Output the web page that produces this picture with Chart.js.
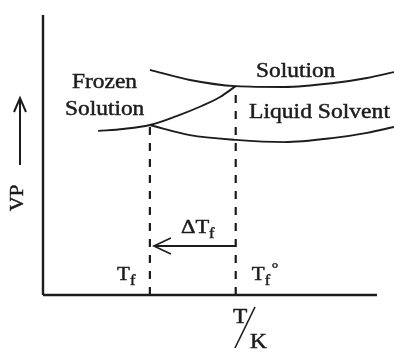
<!DOCTYPE html>
<html>
<head>
<meta charset="utf-8">
<script src="https://cdn.jsdelivr.net/npm/chart.js@4.4.1/dist/chart.umd.min.js"></script>
<style>
html, body { margin: 0; padding: 0; background: #fff; }
#wrap { width: 394px; height: 352px; }
</style>
</head>
<body>
<div id="wrap"><canvas id="myChart"></canvas></div>
<script>
// freezing points on the T axis: Tf (solution) and Tf° (pure solvent)
var freezeT = [3.2, 5.77]
// top of each dashed line (where it meets the curves)
var freezeVP = [6.07, 7.46]

// frozen solution (solid) curve
var frozenT = [1.65, 2.40, 3.2, 4.00, 4.75, 5.30, 5.77]
var frozenVP = [5.86, 5.93, 6.07, 6.39, 6.75, 7.07, 7.46]

// upper curve, labelled "Solution"
var solutionT = [3.2, 4.40, 5.77, 7.22, 8.71, 9.70, 10.51]
var solutionVP = [8.04, 7.68, 7.46, 7.43, 7.57, 7.75, 7.96]

// lower curve, labelled "Liquid Solvent"
var solventT = [3.2, 4.40, 5.77, 7.22, 8.71, 9.70, 10.51]
var solventVP = [6.07, 5.71, 5.54, 5.46, 5.61, 5.79, 6.0]

var curveLabels = ['Frozen', 'Solution', 'Solution', 'Liquid Solvent']
var axisLabels = ['VP', 'T', 'K']

var INK = '#1c1c1c'
var SERIF = '"Liberation Serif", "Times New Roman", serif'

function toPoints(xs, ys) {
    var pts = []
    for (var i = 0; i < xs.length; i++) pts.push({ x: xs[i], y: ys[i] })
    return pts
}

function curve(xs, ys) {
    return {
        data: toPoints(xs, ys),
        showLine: true,
        borderColor: INK,
        borderWidth: 1.9,
        pointRadius: 0,
        cubicInterpolationMode: 'monotone',
        clip: false
    }
}

function straight(pts, width, dash) {
    return {
        data: pts,
        showLine: true,
        borderColor: INK,
        borderWidth: width,
        borderDash: dash || [],
        pointRadius: 0,
        tension: 0,
        clip: false
    }
}

// text a little wider and heavier than the plain font, like the scan
function txt(ctx, s, x, y, size, sx) {
    ctx.save()
    ctx.font = size + 'px ' + SERIF
    ctx.translate(x, y)
    ctx.scale(sx || 1.17, 1)
    ctx.lineWidth = 0.45
    ctx.fillText(s, 0, 0)
    ctx.strokeText(s, 0, 0)
    ctx.restore()
}

var labelsPlugin = {
    id: 'labels',
    afterDraw: function (chart) {
        var ctx = chart.ctx
        var xs = chart.scales.x, ys = chart.scales.y
        var pTf = xs.getPixelForValue(freezeT[0])
        var pTf0 = xs.getPixelForValue(freezeT[1])
        ctx.save()
        ctx.fillStyle = INK
        ctx.strokeStyle = INK
        ctx.textAlign = 'left'
        ctx.textBaseline = 'alphabetic'

        // curve names
        txt(ctx, curveLabels[0], 72, 88, 20)
        txt(ctx, curveLabels[1], 65, 115, 20)
        txt(ctx, curveLabels[2], 256, 77, 20)
        txt(ctx, curveLabels[3], 249, 118, 20, 1.18)

        // Tf and Tf° marks
        txt(ctx, 'T', pTf - 33, 280, 18)
        txt(ctx, 'f', pTf - 20, 285, 14)
        txt(ctx, 'T', pTf0 + 16, 280, 18)
        txt(ctx, 'f', pTf0 + 29, 285, 14)
        txt(ctx, '\u00b0', pTf0 + 36, 273, 14)

        // ΔTf arrow
        var ay = ys.getPixelForValue(1.75)
        var tip = pTf + 4
        ctx.lineWidth = 2
        ctx.beginPath()
        ctx.moveTo(pTf0, ay)
        ctx.lineTo(tip, ay)
        ctx.stroke()
        ctx.lineWidth = 1.6
        ctx.beginPath()
        ctx.moveTo(tip + 17, ay - 8)
        ctx.lineTo(tip, ay)
        ctx.lineTo(tip + 17, ay + 8)
        ctx.stroke()
        txt(ctx, '\u0394T', 181, 233, 18, 1.25)
        txt(ctx, 'f', 209, 238, 14)

        // VP axis title with arrow
        ctx.lineWidth = 2
        ctx.beginPath()
        ctx.moveTo(20, 165)
        ctx.lineTo(20, 99)
        ctx.stroke()
        ctx.beginPath()
        ctx.moveTo(14, 112)
        ctx.lineTo(20, 98)
        ctx.lineTo(26, 112)
        ctx.stroke()
        ctx.save()
        ctx.translate(23, 198)
        ctx.rotate(-Math.PI / 2)
        ctx.textAlign = 'center'
        ctx.font = '18px ' + SERIF
        ctx.scale(1.15, 1)
        ctx.lineWidth = 0.45
        ctx.fillText(axisLabels[0], 0, 0)
        ctx.strokeText(axisLabels[0], 0, 0)
        ctx.restore()

        // T/K axis title
        txt(ctx, axisLabels[1], 233, 323, 20)
        ctx.lineWidth = 1.6
        ctx.beginPath()
        ctx.moveTo(255, 307)
        ctx.lineTo(235, 348)
        ctx.stroke()
        txt(ctx, axisLabels[2], 250, 348, 20)

        ctx.restore()
    }
}

var datasets = [
    // axes
    straight([{ x: 0, y: 0 }, { x: 0, y: 10 }], 2.4),
    straight([{ x: 0, y: 0 }, { x: 10, y: 0 }], 2.4),
    // dashed freezing point lines
    straight([{ x: freezeT[0], y: 0 }, { x: freezeT[0], y: freezeVP[0] }], 2.2, [8, 8]),
    straight([{ x: freezeT[1], y: 0 }, { x: freezeT[1], y: freezeVP[1] }], 2.2, [8, 8]),
    curve(frozenT, frozenVP),
    curve(solutionT, solutionVP),
    curve(solventT, solventVP)
]

var ctx = document.getElementById('myChart').getContext('2d')
var myChart = new Chart(ctx, {
    type: 'scatter',
    data: { datasets: datasets },
    options: {
        responsive: true,
        maintainAspectRatio: false,
        animation: false,
        events: [],
        layout: { padding: { left: 43, right: 17, top: 15, bottom: 57 } },
        plugins: { legend: { display: false }, tooltip: { enabled: false } },
        scales: {
            x: { type: 'linear', min: 0, max: 10, display: false },
            y: { type: 'linear', min: 0, max: 10, display: false }
        }
    },
    plugins: [labelsPlugin]
})
</script>
</body>
</html>
